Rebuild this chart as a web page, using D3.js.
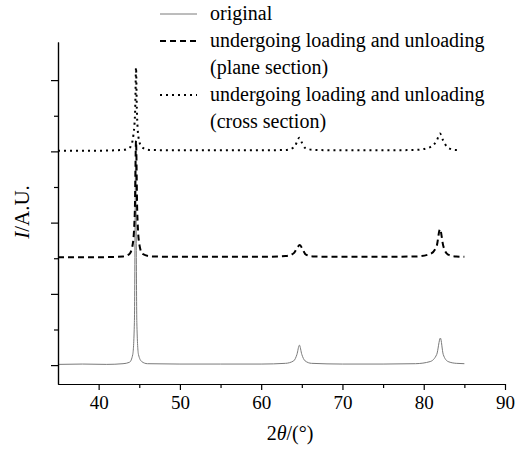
<!DOCTYPE html>
<html>
<head>
<meta charset="utf-8">
<script src="https://cdn.jsdelivr.net/npm/d3@7"></script>
<style>
  body { margin: 0; background: #fff; }
  text { font-family: "Liberation Serif", "Times New Roman", Times, "DejaVu Serif", serif !important; }
</style>
</head>
<body>
<svg id="chart" width="515" height="452"></svg>
<script>
// 2theta (deg) and relative intensity
var original = [
    [35, 0.02], [38, 0.03], [41, 0.02], [43, 0.04], [43.8, 0.08], [44.2, 0.3],
    [44.4, 1.2], [44.55, 5.7], [44.7, 1.2], [44.9, 0.3], [45.3, 0.1], [46, 0.04],
    [50, 0.03], [55, 0.03], [60, 0.03], [63, 0.05], [64, 0.12], [64.4, 0.3],
    [64.7, 0.56], [65, 0.3], [65.4, 0.12], [66.2, 0.05], [70, 0.03], [75, 0.03],
    [79, 0.04], [80.8, 0.1], [81.6, 0.3], [82.05, 0.76], [82.4, 0.3], [83, 0.1],
    [84, 0.05], [85, 0.04]
];
var planeSection = [
    [35, 0.03], [40, 0.03], [43, 0.05], [43.8, 0.12], [44.2, 0.4], [44.45, 1.3],
    [44.6, 3.3], [44.75, 1.3], [45, 0.4], [45.4, 0.12], [46.5, 0.05], [50, 0.04],
    [55, 0.04], [60, 0.04], [63, 0.06], [64, 0.14], [64.4, 0.28], [64.75, 0.37],
    [65.1, 0.25], [65.5, 0.1], [66.5, 0.05], [70, 0.04], [75, 0.04], [79, 0.05],
    [80.8, 0.12], [81.6, 0.35], [82, 0.82], [82.4, 0.35], [83, 0.1], [84, 0.05],
    [85, 0.04]
];
var crossSection = [
    [35, 0.02], [40, 0.02], [43, 0.04], [43.9, 0.12], [44.3, 0.5], [44.5, 1.2],
    [44.6, 2.35], [44.7, 1.2], [44.9, 0.4], [45.3, 0.12], [46.2, 0.04], [50, 0.03],
    [55, 0.03], [60, 0.03], [63, 0.04], [64.1, 0.12], [64.45, 0.3], [64.7, 0.38],
    [65, 0.25], [65.4, 0.1], [66.5, 0.04], [70, 0.03], [75, 0.03], [79, 0.04],
    [80.8, 0.12], [81.6, 0.3], [82, 0.5], [82.4, 0.3], [83, 0.1], [84, 0.04],
    [84.5, 0.04]
];
var seriesOffsets = [0, 3, 6];
var legendLabels = [
    ["original"],
    ["undergoing loading and unloading", "(plane section)"],
    ["undergoing loading and unloading", "(cross section)"]
];
var xMajorTicks = [40, 50, 60, 70, 80, 90];
var xMinorTicks = [45, 55, 65, 75, 85];
var yMajorTicks = [0, 2, 4, 6, 8];
var yMinorTicks = [1, 3, 5, 7];

var serif = '"Liberation Serif", "Times New Roman", Times, "DejaVu Serif", serif';
var margins = { left: 58, right: 10, top: 42, bottom: 68 };

var xScale = d3.scaleLinear().domain([35, 90]).range([margins.left, 505]);
var yScale = d3.scaleLinear().domain([-0.53, 9.07]).range([384, margins.top]);

var styles = [
    { stroke: "#7a7a7a", width: 1, dash: null },
    { stroke: "#000", width: 2, dash: "6,4" },
    { stroke: "#000", width: 2, dash: "2,4" }
];

var chart = d3.select("#chart");

drawSeries(chart, [original, planeSection, crossSection]);
drawXAxis(chart);
drawYAxis(chart);
drawLegend(chart);
drawLabels(chart);

function drawSeries(chart, allSeries){
    var line = d3.line()
        .x(function(d){ return xScale(d[0]); })
        .curve(d3.curveMonotoneX);
    allSeries.forEach(function(series, i){
        line.y(function(d){ return yScale(d[1] + seriesOffsets[i]); });
        chart.append("path")
            .datum(series)
            .attr("fill", "none")
            .attr("stroke", styles[i].stroke)
            .attr("stroke-width", styles[i].width)
            .attr("stroke-dasharray", styles[i].dash)
            .attr("d", line);
    });
}

function drawXAxis(chart){
    var y0 = yScale(-0.53);
    chart.append("g")
        .attr("transform", `translate(0, ${y0})`)
        .call(d3.axisBottom(xScale).tickValues(xMinorTicks).tickFormat("").tickSize(4).tickSizeOuter(0))
        .call(styleAxis);
    chart.append("g")
        .attr("transform", `translate(0, ${y0})`)
        .call(d3.axisBottom(xScale).tickValues(xMajorTicks).tickSize(6).tickSizeOuter(0).tickPadding(6))
        .call(styleAxis)
        .selectAll("text")
        .attr("font-size", 19);
}

function drawYAxis(chart){
    chart.append("g")
        .attr("transform", `translate(${margins.left}, 0)`)
        .call(d3.axisLeft(yScale).tickValues(yMinorTicks).tickFormat("").tickSize(4).tickSizeOuter(0))
        .call(styleAxis);
    chart.append("g")
        .attr("transform", `translate(${margins.left}, 0)`)
        .call(d3.axisLeft(yScale).tickValues(yMajorTicks).tickFormat("").tickSize(7).tickSizeOuter(0))
        .call(styleAxis);
}

function styleAxis(g){
    g.attr("font-family", serif);
    g.select(".domain").attr("stroke", "#000").attr("stroke-width", 1.2);
    g.selectAll(".tick line").attr("stroke", "#000").attr("stroke-width", 1.2);
    g.selectAll("text").attr("fill", "#000").attr("font-family", serif);
}

function drawLegend(chart){
    var rowY = [14, 41, 95];
    legendLabels.forEach(function(lines, i){
        chart.append("line")
            .attr("x1", 160).attr("x2", 197)
            .attr("y1", rowY[i]).attr("y2", rowY[i])
            .attr("stroke", styles[i].stroke)
            .attr("stroke-width", styles[i].width)
            .attr("stroke-dasharray", styles[i].dash);
        lines.forEach(function(text, j){
            chart.append("text")
                .attr("x", 210)
                .attr("y", rowY[i] + 6 + j * 27)
                .attr("font-family", serif)
                .attr("font-size", 20)
                .text(text);
        });
    });
}

function drawLabels(chart){
    var xLabel = chart.append("text")
        .attr("x", 290).attr("y", 440)
        .attr("text-anchor", "middle")
        .attr("font-family", serif)
        .attr("font-size", 20);
    xLabel.append("tspan").text("2");
    xLabel.append("tspan").attr("font-style", "italic").text("θ");
    xLabel.append("tspan").text("/(°)");

    var yLabel = chart.append("text")
        .attr("transform", "translate(29, 212) rotate(-90)")
        .attr("text-anchor", "middle")
        .attr("font-family", serif)
        .attr("font-size", 21);
    yLabel.append("tspan").attr("font-style", "italic").text("I");
    yLabel.append("tspan").text("/A.U.");
}
</script>
</body>
</html>
